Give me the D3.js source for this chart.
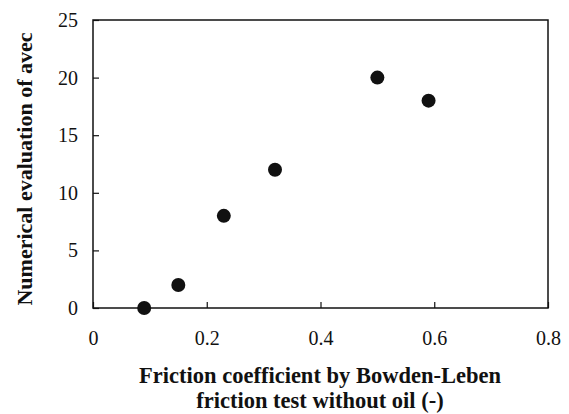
<!DOCTYPE html>
<html><head><meta charset="utf-8">
<script src="https://cdn.jsdelivr.net/npm/d3@7"></script>
<style>body{margin:0;background:#fff}</style>
</head><body>
<svg id="c" width="569" height="414"></svg>
<script>
const xValues = [0.09, 0.15, 0.23, 0.32, 0.50, 0.59];
const yValues = [0, 2, 8, 12, 20, 18];
const xTicks = [0, 0.2, 0.4, 0.6, 0.8];
const yTicks = [0, 5, 10, 15, 20, 25];
const xTitle = ["Friction coefficient by Bowden-Leben", "friction test without oil (-)"];
const yTitle = "Numerical evaluation of avec";

const svg = d3.select("#c");
const L = 93, R = 548, T = 20, B = 308;
const x = d3.scaleLinear().domain([0, 0.8]).range([L, R]);
const y = d3.scaleLinear().domain([0, 25]).range([B, T]);
const font = '"Liberation Serif", "Times New Roman", serif';

svg.append("rect").attr("x", L).attr("y", T).attr("width", R - L).attr("height", B - T)
  .attr("fill", "none").attr("stroke", "#111").attr("stroke-width", 1.5);

const xa = svg.append("g").attr("transform", `translate(0,${B})`)
  .call(d3.axisBottom(x).tickValues(xTicks).tickSize(-6).tickPadding(23).tickFormat(d => d === 0 ? "0" : d3.format(".1f")(d)));
const ya = svg.append("g").attr("transform", `translate(${L},0)`)
  .call(d3.axisLeft(y).tickValues(yTicks).tickSize(-6).tickPadding(15).tickFormat(d3.format("d")));
[xa, ya].forEach(a => {
  a.attr("font-family", null).attr("font-size", null);
  a.select(".domain").remove();
  a.selectAll("line").attr("stroke", "#111").attr("stroke-width", 1.2);
  a.selectAll("text").style("font-family", font).attr("font-size", 20).attr("fill", "#111");
});

svg.append("g").selectAll("circle").data(xValues).join("circle")
  .attr("cx", d => x(d)).attr("cy", (d, i) => y(yValues[i])).attr("r", 7).attr("fill", "#111");

svg.append("text").attr("transform", `translate(32,169) rotate(-90)`)
  .attr("text-anchor", "middle").style("font-family", font).attr("font-weight", "bold")
  .attr("font-size", 22).attr("fill", "#111").text(yTitle);

svg.append("g").selectAll("text").data(xTitle).join("text")
  .attr("x", 320).attr("y", (d, i) => 383 + i * 25).attr("text-anchor", "middle")
  .style("font-family", font).attr("font-weight", "bold").attr("font-size", 22.5).attr("fill", "#111")
  .text(d => d);
</script>
</body></html>
